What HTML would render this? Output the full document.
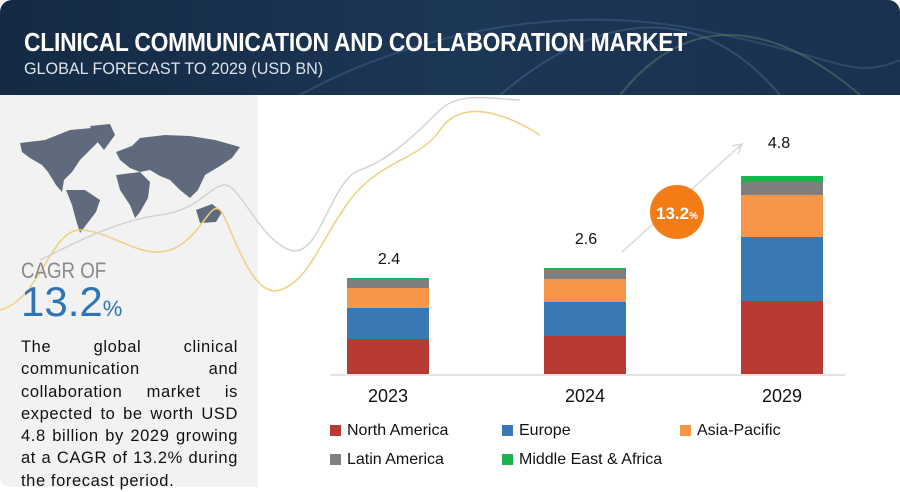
<!DOCTYPE html>
<html><head><meta charset="utf-8"><style>
body{margin:0;width:900px;height:489px;overflow:hidden;background:#fff;font-family:"Liberation Sans",sans-serif;position:relative}
.hdr{position:absolute;left:0;top:0;width:900px;height:95px;background:linear-gradient(90deg,#142a44,#1c3656 50%,#1a3150);border-radius:12px 12px 0 0}
.t1{position:absolute;left:24px;top:27px;color:#fff;font-size:26px;font-weight:bold;transform:scaleX(.88);transform-origin:left;white-space:nowrap;letter-spacing:-0.3px}
.t2{position:absolute;left:24px;top:59px;color:#dfe3e8;font-size:17px;transform:scaleX(.95);transform-origin:left;white-space:nowrap}
.left{position:absolute;left:0;top:95px;width:258px;height:392px;background:#f2f2f2;border-radius:0 0 0 10px}
.para{position:absolute;left:21px;top:336px;width:217px;font-size:16.5px;line-height:22.3px;text-align:justify;color:#111;letter-spacing:0.6px}
.bar{position:absolute;width:82px}
.lab{position:absolute;font-size:16px;color:#111;width:82px;text-align:center}
.yr{position:absolute;font-size:18px;color:#111;width:82px;text-align:center;top:386px}
.lg{position:absolute;font-size:16px;color:#111}
.lg i{display:inline-block;width:11px;height:11px;margin-right:6px;vertical-align:-1px}
</style></head><body>
<div class="hdr">
<svg width="900" height="95" style="position:absolute;left:0;top:0">
<path d="M300 95 C400 40 550 0 700 30 S 850 80 900 60" stroke="#3a5a7a" fill="none" stroke-width="2" opacity=".6"/>
<path d="M500 95 C600 10 700 0 780 95" stroke="#4a6a8a" fill="none" stroke-width="2" opacity=".5"/>
<path d="M620 95 C680 20 760 10 860 95" stroke="#6a7a6a" fill="none" stroke-width="2" opacity=".5"/>
</svg>
<div class="t1">CLINICAL COMMUNICATION AND COLLABORATION MARKET</div>
<div class="t2">GLOBAL FORECAST TO 2029 (USD BN)</div>
</div>
<div class="left"></div>
<svg width="900" height="489" style="position:absolute;left:0;top:0">
<g fill="#5f6b7d">
<path d="M20 143 L45 140 L70 130 L92 128 L100 140 L90 150 L80 160 L72 172 L64 180 L62 192 L56 185 L48 172 L42 165 L30 158 L22 152 Z"/>
<path d="M90 126 L110 124 L115 135 L104 150 L96 140 Z"/>
<path d="M66 190 L85 190 L100 200 L96 212 L86 225 L80 233 L76 220 L72 205 Z"/>
<path d="M116 152 L132 146 L140 138 L165 135 L190 136 L215 140 L240 147 L232 158 L220 166 L205 175 L198 190 L190 198 L180 190 L170 180 L160 176 L150 170 L140 172 L130 168 L120 160 Z"/>
<path d="M116 175 L140 172 L150 182 L148 198 L140 212 L135 218 L130 205 L120 190 Z"/>
<path d="M196 210 L212 204 L222 212 L216 222 L200 223 Z"/>
</g>
<path d="M0 310 C40 300 50 230 80 230 S 140 260 170 250 S 210 200 220 210 S 250 300 280 290 S 320 240 350 200 S 420 160 440 130 S 500 110 540 135" stroke="#f0d080" fill="none" stroke-width="1.5"/>
<path d="M40 260 C80 240 120 220 160 215 S 210 185 225 185 S 260 240 290 250 S 330 180 360 170 S 420 130 440 110 S 500 100 520 100" stroke="#d4d4d4" fill="none" stroke-width="1.5"/>
<line x1="622" y1="252" x2="742" y2="144" stroke="#d8d8d8" stroke-width="1.5"/>
<path d="M732 146 L742 144 L738 154" stroke="#d8d8d8" fill="none" stroke-width="1.5"/>
<line x1="330" y1="375" x2="845" y2="375" stroke="#dcdcdc" stroke-width="1.5"/>
<circle cx="677" cy="212" r="27" fill="#f47c14"/>
<text x="677" y="219" fill="#fff" font-family="Liberation Sans" font-weight="bold" font-size="17" text-anchor="middle">13.2<tspan font-size="10">%</tspan></text>
</svg>
<div style="position:absolute;left:21px;top:258px;font-size:22px;color:#8a8a8a;transform:scaleX(.85);transform-origin:left">CAGR OF</div>
<div style="position:absolute;left:21px;top:278px;font-size:42px;color:#2f75b5">13.2<span style="font-size:22px">%</span></div>
<div class="para">The global clinical communication and collaboration market is expected to be worth USD 4.8 billion by 2029 growing at a CAGR of 13.2% during the forecast period.</div>

<div class="bar" style="left:347px;top:278px;height:1px;background:#1db34e"></div>
<div class="bar" style="left:347px;top:279px;height:9px;background:#7f7f7f"></div>
<div class="bar" style="left:347px;top:288px;height:20px;background:#f79646"></div>
<div class="bar" style="left:347px;top:308px;height:31px;background:#3778b5"></div>
<div class="bar" style="left:347px;top:339px;height:35px;background:#b73a33"></div>

<div class="bar" style="left:544px;top:268px;height:2px;background:#1db34e"></div>
<div class="bar" style="left:544px;top:270px;height:9px;background:#7f7f7f"></div>
<div class="bar" style="left:544px;top:279px;height:23px;background:#f79646"></div>
<div class="bar" style="left:544px;top:302px;height:34px;background:#3778b5"></div>
<div class="bar" style="left:544px;top:336px;height:38px;background:#b73a33"></div>

<div class="bar" style="left:741px;top:176px;height:6px;background:#1db34e"></div>
<div class="bar" style="left:741px;top:182px;height:13px;background:#7f7f7f"></div>
<div class="bar" style="left:741px;top:195px;height:42px;background:#f79646"></div>
<div class="bar" style="left:741px;top:237px;height:64px;background:#3778b5"></div>
<div class="bar" style="left:741px;top:301px;height:73px;background:#b73a33"></div>

<div class="lab" style="left:348px;top:251px">2.4</div>
<div class="lab" style="left:545px;top:231px">2.6</div>
<div class="lab" style="left:738px;top:135px">4.8</div>
<div class="yr" style="left:347px">2023</div>
<div class="yr" style="left:544px">2024</div>
<div class="yr" style="left:741px">2029</div>

<div class="lg" style="left:330px;top:422px"><i style="background:#b73a33"></i>North America</div>
<div class="lg" style="left:502px;top:422px"><i style="background:#3778b5"></i>Europe</div>
<div class="lg" style="left:680px;top:422px"><i style="background:#f79646"></i>Asia-Pacific</div>
<div class="lg" style="left:330px;top:451px"><i style="background:#7f7f7f"></i>Latin America</div>
<div class="lg" style="left:502px;top:451px"><i style="background:#1db34e"></i>Middle East &amp; Africa</div>
</body></html>
